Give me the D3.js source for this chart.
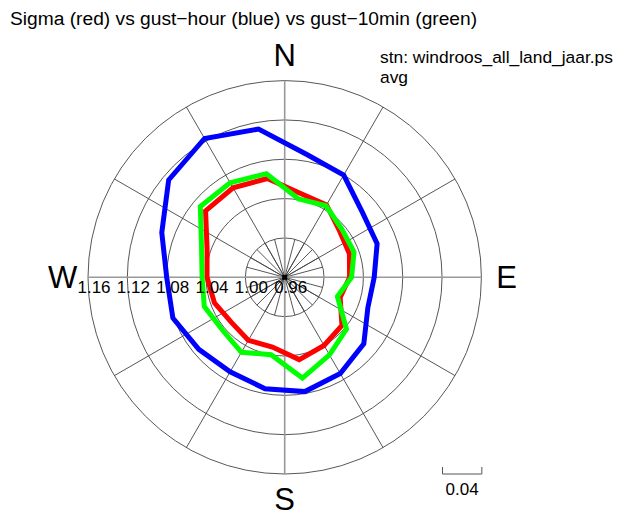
<!DOCTYPE html>
<html>
<head>
<meta charset="utf-8">
<script src="https://cdn.jsdelivr.net/npm/d3@7/dist/d3.min.js"></script>
<style>
  html, body { margin: 0; padding: 0; background: #fff; }
  svg { display: block; font-family: "Liberation Sans", Arial, Helvetica, sans-serif; }
</style>
</head>
<body>
<svg id="chart" width="620" height="518"></svg>
<script>
// Wind direction sectors (degrees, clockwise from north)
const directions = [10, 30, 50, 70, 90, 110, 130, 150, 170, 190, 210, 230, 250, 270, 290, 310, 330, 350];

// Ratios per direction sector
const sigma     = [1.047, 1.045, 1.033, 1.030, 1.026, 1.020, 1.036, 1.040, 1.045, 1.032, 1.034, 1.031, 1.036, 1.039, 1.044, 1.065, 1.065, 1.062];
const gustHour  = [1.087, 1.080, 1.063, 1.060, 1.051, 1.050, 1.065, 1.073, 1.078, 1.075, 1.071, 1.074, 1.081, 1.080, 1.093, 1.114, 1.123, 1.113];
const gust10min = [1.041, 1.044, 1.036, 1.035, 1.028, 1.017, 1.042, 1.051, 1.064, 1.040, 1.048, 1.043, 1.047, 1.044, 1.050, 1.072, 1.071, 1.067];

// Radial ticks and compass labels
const radialTicks = [0.96, 1.00, 1.04, 1.08, 1.12, 1.16];
const compassLabels = ["N", "E", "S", "W"];
const scaleBarValue = 0.04;

const titleText = "Sigma (red) vs gust\u2212hour (blue) vs gust\u221210min (green)";
const stationText = "stn: windroos_all_land_jaar.ps";
const statText = "avg";

const svg = d3.select("#chart");
const cx = 284.7, cy = 277.3;
const rOuter = 196.7;

const r = d3.scaleLinear().domain([radialTicks[0], radialTicks[radialTicks.length - 1]]).range([0, rOuter]);
const rad = d => d * Math.PI / 180;

const g = svg.append("g").attr("transform", `translate(${cx},${cy})`);

// Rings
g.selectAll("circle.ring")
  .data(radialTicks.slice(1))
  .join("circle")
  .attr("class", "ring")
  .attr("r", d => r(d))
  .attr("fill", "none")
  .attr("stroke", "#444")
  .attr("stroke-width", 0.9);

// Fine spokes inside the innermost ring (every 15 degrees)
g.selectAll("line.fine")
  .data(d3.range(0, 360, 15))
  .join("line")
  .attr("class", "fine")
  .attr("x1", 0).attr("y1", 0)
  .attr("x2", d => r(radialTicks[1]) * Math.sin(rad(d)))
  .attr("y2", d => -r(radialTicks[1]) * Math.cos(rad(d)))
  .attr("stroke", "#444")
  .attr("stroke-width", 0.9);

// Spokes every 30 degrees to the outer ring
g.selectAll("line.spoke")
  .data(d3.range(0, 360, 30))
  .join("line")
  .attr("class", "spoke")
  .attr("x1", 0).attr("y1", 0)
  .attr("x2", d => rOuter * Math.sin(rad(d)))
  .attr("y2", d => -rOuter * Math.cos(rad(d)))
  .attr("stroke", d => d % 90 === 0 ? "#999" : "#444")
  .attr("stroke-width", d => d % 90 === 0 ? 1.6 : 0.9);

// Series polygons
const line = d3.lineRadial()
  .angle(d => rad(d.dir))
  .radius(d => r(d.v))
  .curve(d3.curveLinearClosed);

const series = [
  { values: sigma, color: "#ff0000" },
  { values: gustHour, color: "#0000ff" },
  { values: gust10min, color: "#00ff00" }
];

g.selectAll("path.series")
  .data(series)
  .join("path")
  .attr("class", "series")
  .attr("d", s => line(directions.map((dir, i) => ({ dir, v: s.values[i] }))))
  .attr("fill", "none")
  .attr("stroke", s => s.color)
  .attr("stroke-width", 5)
  .attr("stroke-linejoin", "miter");

// Centre marker
g.append("rect")
  .attr("x", -2.5).attr("y", -2.5)
  .attr("width", 5).attr("height", 5)
  .attr("fill", "#000");

// Radial tick labels along the west axis
g.selectAll("text.tick")
  .data(radialTicks)
  .join("text")
  .attr("class", "tick")
  .attr("x", d => -r(d) + 6)
  .attr("y", 16)
  .attr("text-anchor", "middle")
  .attr("font-size", 17)
  .attr("fill", "#000")
  .text(d => d3.format(".2f")(d));

// Compass letters
const compassR = 222;
g.selectAll("text.compass")
  .data(compassLabels)
  .join("text")
  .attr("class", "compass")
  .attr("x", (d, i) => compassR * Math.sin(rad(i * 90)))
  .attr("y", (d, i) => -compassR * Math.cos(rad(i * 90)))
  .attr("dy", "0.35em")
  .attr("text-anchor", "middle")
  .attr("font-size", 31)
  .attr("fill", "#000")
  .text(d => d);

// Title and annotation
svg.append("text")
  .attr("x", 10).attr("y", 25)
  .attr("font-size", 19.2)
  .attr("fill", "#000")
  .text(titleText);

svg.append("text")
  .attr("x", 380).attr("y", 63)
  .attr("font-size", 17.4)
  .attr("fill", "#000")
  .text(stationText);

svg.append("text")
  .attr("x", 380).attr("y", 83)
  .attr("font-size", 17.4)
  .attr("fill", "#000")
  .text(statText);

// Scale bar
const barX = 442.5, barY = 474, barLen = r(radialTicks[0] + scaleBarValue) - r(radialTicks[0]);
svg.append("path")
  .attr("d", `M${barX},${barY - 7}V${barY}H${barX + barLen}V${barY - 7}`)
  .attr("fill", "none")
  .attr("stroke", "#555")
  .attr("stroke-width", 1);
svg.append("text")
  .attr("x", barX + barLen / 2).attr("y", 495)
  .attr("text-anchor", "middle")
  .attr("font-size", 17)
  .attr("fill", "#000")
  .text(d3.format(".2f")(scaleBarValue));
</script>
</body>
</html>
